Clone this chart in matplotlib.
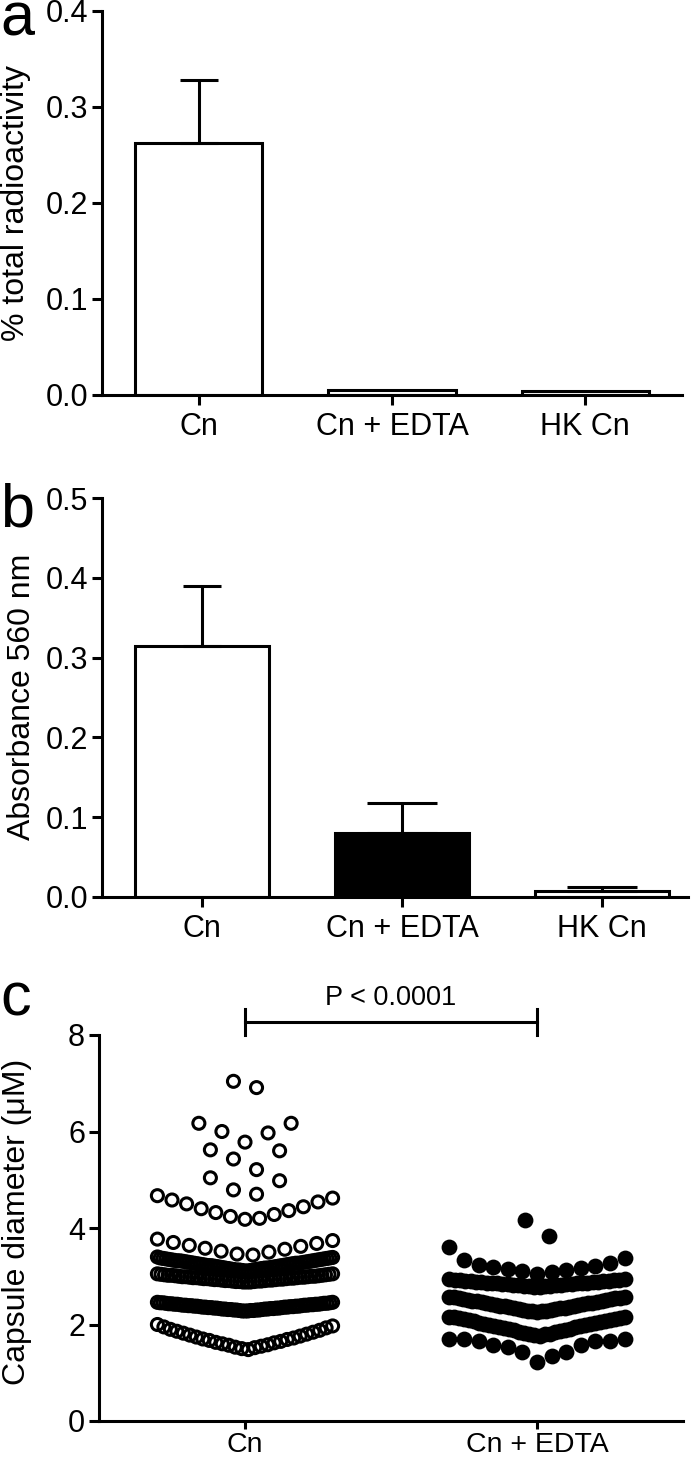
import numpy as np
import matplotlib
matplotlib.use("Agg")
import matplotlib.pyplot as plt

plt.rcParams['font.family'] = ['Liberation Sans', 'DejaVu Sans']

# ---- data ----
groups_ab = ['Cn', 'Cn + EDTA', 'HK Cn']
radio_mean = [0.262, 0.005, 0.004]
radio_err = [0.066, 0.0, 0.0]
abs_mean = [0.314, 0.080, 0.007]
abs_err = [0.076, 0.038, 0.005]
bar_fill_b = ['white', 'black', 'white']

groups_c = ['Cn', 'Cn + EDTA']
cn_diam = [
    1.48, 1.50, 1.52, 1.53, 1.55, 1.57, 1.58, 1.60, 1.62, 1.63, 1.65, 1.67, 1.69, 1.70,
    1.72, 1.74, 1.76, 1.78, 1.80, 1.82, 1.84, 1.86, 1.88, 1.90, 1.93, 1.95, 1.97, 2.00,
    2.28, 2.28, 2.28, 2.29, 2.29, 2.29, 2.30, 2.30, 2.30, 2.30, 2.31, 2.31, 2.31, 2.32,
    2.32, 2.32, 2.32, 2.33, 2.33, 2.33, 2.34, 2.34, 2.34, 2.34, 2.35, 2.35, 2.35, 2.36,
    2.36, 2.36, 2.36, 2.37, 2.37, 2.37, 2.38, 2.38, 2.38, 2.38, 2.39, 2.39, 2.39, 2.40,
    2.40, 2.40, 2.40, 2.41, 2.41, 2.41, 2.42, 2.42, 2.42, 2.42, 2.43, 2.43, 2.43, 2.44,
    2.44, 2.44, 2.45, 2.45, 2.45, 2.46, 2.46,
    2.88, 2.88, 2.88, 2.89, 2.89, 2.89, 2.90, 2.90, 2.90, 2.91, 2.91, 2.91, 2.92, 2.92,
    2.92, 2.93, 2.93, 2.93, 2.94, 2.94, 2.94, 2.95, 2.95, 2.95, 2.96, 2.96, 2.96, 2.97,
    2.97, 2.97, 2.98, 2.98, 2.98, 2.99, 2.99, 2.99, 3.00, 3.00, 3.00, 3.01, 3.01, 3.02,
    3.02, 3.02, 3.03, 3.03, 3.04, 3.04, 3.05, 3.05,
    3.11, 3.11, 3.12, 3.12, 3.13, 3.13, 3.13, 3.14, 3.14, 3.15, 3.15, 3.16, 3.16, 3.17,
    3.17, 3.17, 3.18, 3.18, 3.19, 3.19, 3.20, 3.20, 3.21, 3.21, 3.22, 3.22, 3.22, 3.23,
    3.23, 3.24, 3.24, 3.25, 3.25, 3.26, 3.26, 3.27, 3.27, 3.27, 3.28, 3.28, 3.29, 3.29,
    3.30, 3.30, 3.31, 3.31, 3.32, 3.32, 3.32, 3.33, 3.33, 3.34, 3.34, 3.35, 3.35, 3.36,
    3.36, 3.37, 3.37, 3.38, 3.38, 3.39, 3.40,
    3.44, 3.46, 3.50, 3.52, 3.56, 3.58, 3.62, 3.64, 3.68, 3.70, 3.74, 3.77,
    4.18, 4.20, 4.24, 4.28, 4.32, 4.36, 4.40, 4.44, 4.50, 4.54, 4.58, 4.62, 4.67,
    4.70, 4.79, 4.98, 5.04, 5.21, 5.43, 5.60, 5.62, 5.78, 5.97, 6.00, 6.17, 6.17,
    6.91, 7.04,
]
edta_diam = [
    1.22, 1.34, 1.44, 1.44, 1.54, 1.58, 1.58, 1.65, 1.65, 1.65, 1.69, 1.69, 1.69,
    1.77, 1.78, 1.80, 1.80, 1.81, 1.83, 1.84, 1.85, 1.86, 1.88, 1.89, 1.90, 1.91, 1.92,
    1.94, 1.95, 1.96, 1.97, 1.98, 2.00, 2.01, 2.02, 2.03, 2.04, 2.06, 2.07, 2.08, 2.09,
    2.10, 2.11, 2.12, 2.13, 2.14, 2.15, 2.16, 2.16,
    2.26, 2.27, 2.28, 2.29, 2.29, 2.30, 2.31, 2.32, 2.33, 2.34, 2.34, 2.35, 2.36, 2.37,
    2.38, 2.39, 2.39, 2.40, 2.41, 2.42, 2.43, 2.44, 2.44, 2.45, 2.46, 2.47, 2.48, 2.49,
    2.49, 2.50, 2.51, 2.52, 2.53, 2.54, 2.54, 2.55, 2.56, 2.57, 2.57,
    2.78, 2.78, 2.79, 2.79, 2.80, 2.80, 2.81, 2.81, 2.82, 2.82, 2.83, 2.83, 2.84, 2.84,
    2.85, 2.85, 2.86, 2.86, 2.87, 2.87, 2.88, 2.88, 2.89, 2.89, 2.90, 2.90, 2.91, 2.91,
    2.92, 2.92, 2.93, 2.93, 2.94, 2.94,
    3.05, 3.08, 3.10, 3.13, 3.15, 3.17, 3.19, 3.21, 3.23, 3.28, 3.33, 3.37, 3.60,
    3.83, 4.16,
]
# row limits used by the column-scatter layout
cn_rows = [1.4, 2.1, 2.7, 3.08, 3.42, 4.0, 4.685, 5.1, 5.7, 6.5, 7.5]
edta_rows = [1.1, 1.73, 2.21, 2.7, 3.0, 3.7, 4.5]


def swarm(vals, edges, step_max=0.079, width=0.60):
    vals = np.asarray(vals, dtype=float)
    off = np.zeros_like(vals)
    idx = np.digitize(vals, edges)
    for b in np.unique(idx):
        sel = np.where(idx == b)[0]
        order = sel[np.argsort(vals[sel], kind='stable')]
        n = len(order)
        step = step_max if n == 1 else min(step_max, width / (n - 1))
        for i, j in enumerate(order):
            if n % 2:
                k = (i + 1) // 2
                s = 1 if i % 2 == 1 else -1
            else:
                k = i // 2 + 0.5
                s = 1 if i % 2 == 0 else -1
            off[j] = s * k * step
    return off


W, H = 700, 1465
fig = plt.figure(figsize=(W / 100, H / 100), dpi=100)

LW = 2.2
TICK = 22


def style(ax, pad=5):
    for s in ['top', 'right']:
        ax.spines[s].set_visible(False)
    for s in ['left', 'bottom']:
        ax.spines[s].set_linewidth(LW)
    ax.tick_params(direction='out', length=7, width=LW, labelsize=TICK, pad=3)
    ax.tick_params(axis='x', pad=pad)


def bar_panel(rect, means, errs, fills, ymax, width, xmax, caps):
    ax = fig.add_axes(rect)
    x = np.arange(len(means))
    ax.bar(x, means, width=width, color=fills, edgecolor='black', linewidth=LW, zorder=2)
    for xi, m, e, c in zip(x, means, errs, caps):
        if e > 0:
            ax.errorbar(xi, m, yerr=[[0], [e]], fmt='none', ecolor='black',
                        elinewidth=LW, capsize=c, capthick=LW, zorder=3)
    ax.set_xlim(-0.5, xmax)
    ax.set_ylim(0, ymax)
    ax.set_xticks(x)
    ax.set_xticklabels(groups_ab)
    ax.set_yticks(np.arange(0, ymax + 0.01, 0.1))
    ax.yaxis.set_major_formatter(matplotlib.ticker.FormatStrFormatter('%.1f'))
    style(ax)
    return ax


# panel a
ax_a = bar_panel([102 / W, 1 - 395 / H, 580 / W, 384 / H], radio_mean, radio_err,
                 ['white'] * 3, 0.4, 0.66, 2.5, [14, 14, 14])
fig.text(16 / W, 1 - 203 / H, '% total radioactivity', rotation=90,
         ha='center', va='center', fontsize=23)
fig.text(0, 1 - 36 / H, 'a', fontsize=44, ha='left', va='baseline')

# panel b
ax_b = bar_panel([102 / W, 1 - 897 / H, 586 / W, 399 / H], abs_mean, abs_err,
                 bar_fill_b, 0.5, 0.67, 2.43, [14, 25, 25])
fig.text(22 / W, 1 - 697 / H, 'Absorbance 560 nm', rotation=90,
         ha='center', va='center', fontsize=23)
fig.text(0, 1 - 527 / H, 'b', fontsize=44, ha='left', va='baseline')

# panel c
ax_c = fig.add_axes([99 / W, 1 - 1421 / H, 584 / W, 386 / H])
ax_c.scatter(0 + swarm(cn_diam, cn_rows), cn_diam, s=75, facecolors='none',
             edgecolors='black', linewidths=2.2, zorder=3, clip_on=False)
ax_c.scatter(1 + swarm(edta_diam, edta_rows), edta_diam, s=130, color='black',
             linewidths=0, zorder=3, clip_on=False)
ax_c.set_xlim(-0.5, 1.5)
ax_c.set_ylim(0, 8)
ax_c.set_xticks([0, 1])
ax_c.set_xticklabels(groups_c)
ax_c.set_yticks([0, 2, 4, 6, 8])
style(ax_c, pad=2)
ax_c.tick_params(axis='x', labelsize=20.5, length=6)
ax_c.plot([0, 1], [8.27, 8.27], color='black', lw=LW, clip_on=False)
for xe in [0, 1]:
    ax_c.plot([xe, xe], [7.99, 8.54], color='black', lw=LW, clip_on=False)
ax_c.text(0.5, 8.62, 'P < 0.0001', ha='center', va='baseline', fontsize=19.5)
fig.text(17 / W, 1 - 1222 / H, 'Capsule diameter (\u03bcM)', rotation=90,
         ha='center', va='center', fontsize=23)
fig.text(0, 1 - 1015 / H, 'c', fontsize=44, ha='left', va='baseline')

fig.savefig('out.png', dpi=100)
